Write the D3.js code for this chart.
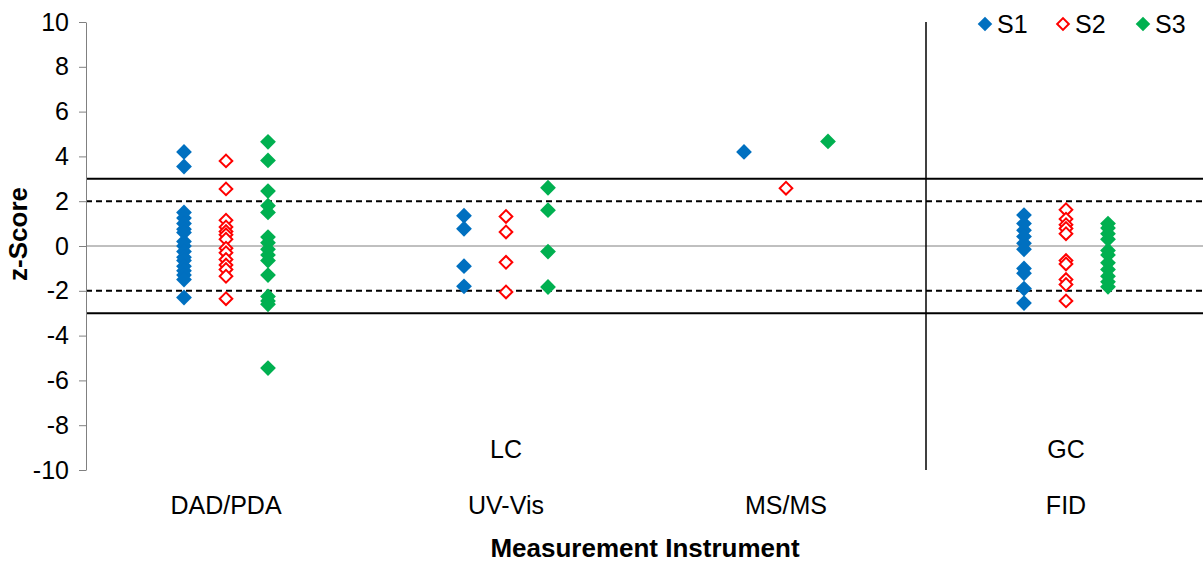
<!DOCTYPE html>
<html>
<head>
<meta charset="utf-8">
<script src="https://cdn.jsdelivr.net/npm/d3@7"></script>
<style>
  html, body { margin: 0; padding: 0; background: #fff; }
  svg { display: block; font-family: "Liberation Sans", Arial, sans-serif; }
</style>
</head>
<body>
<svg id="chart" width="1203" height="563"></svg>
<script>
// Instruments on the x axis and the technique group each belongs to
const categories = ["DAD/PDA", "UV-Vis", "MS/MS", "FID"];
const groups = [
  { label: "LC", from: "DAD/PDA", to: "MS/MS" },
  { label: "GC", from: "FID", to: "FID" }
];
const seriesNames = ["S1", "S2", "S3"];

// z-scores per instrument (one inner array per category)
const s1Values = [
  [4.2, 3.55, 1.5, 1.25, 1.0, 0.75, 0.6, 0.2, 0.0, -0.25, -0.5, -0.65, -0.9, -1.1, -1.3, -1.5, -2.3],
  [1.35, 0.77, -0.9, -1.8],
  [4.2],
  [1.38, 1.0, 0.7, 0.42, 0.12, -0.15, -1.0, -1.22, -1.9, -2.55]
];
const s2Values = [
  [3.8, 2.55, 1.15, 0.85, 0.65, 0.5, 0.3, -0.1, -0.3, -0.6, -0.85, -1.05, -1.35, -2.35],
  [1.32, 0.63, -0.73, -2.05],
  [2.58],
  [1.62, 1.2, 0.95, 0.78, 0.55, -0.65, -0.8, -1.5, -1.72, -2.45]
];
const s3Values = [
  [4.65, 3.82, 2.45, 1.8, 1.5, 0.4, 0.15, -0.15, -0.4, -0.65, -1.3, -2.25, -2.45, -2.6, -5.45],
  [2.6, 1.6, -0.25, -1.83],
  [4.67],
  [1.0, 0.8, 0.55, 0.3, -0.2, -0.4, -0.75, -1.05, -1.35, -1.6, -1.82]
];
const yTicks = [-10, -8, -6, -4, -2, 0, 2, 4, 6, 8, 10];
const limitLines = [
  { value: 3, dash: null }, { value: -3, dash: null },
  { value: 2, dash: "6,4" }, { value: -2, dash: "6,4" }
];

const seriesStyle = {
  S1: { fill: "#0070C0", stroke: "none", width: 0, size: 125 },
  S2: { fill: "#fff", stroke: "#FF0000", width: 2, size: 80 },
  S3: { fill: "#00B050", stroke: "none", width: 0, size: 125 }
};

const svg = d3.select("#chart");
const plotLeft = 86, plotRight = 1206, plotTop = 22, plotBottom = 470;

const x = d3.scaleBand().domain(categories).range([plotLeft, plotRight]).padding(0);
const offset = d3.scalePoint().domain(seriesNames).range([-42, 42]);
const y = d3.scaleLinear().domain([-10, 10]).range([plotBottom, plotTop]);

// zero line
svg.append("line")
  .attr("x1", plotLeft).attr("x2", plotRight)
  .attr("y1", y(0)).attr("y2", y(0))
  .attr("stroke", "#808080").attr("stroke-width", 1);

// acceptance limits |z| = 2 (dashed) and |z| = 3 (solid)
svg.selectAll(".limit").data(limitLines).join("line")
  .attr("class", "limit")
  .attr("x1", plotLeft).attr("x2", plotRight)
  .attr("y1", d => y(d.value)).attr("y2", d => y(d.value))
  .attr("stroke", "#000").attr("stroke-width", 2)
  .attr("stroke-dasharray", d => d.dash);

// divider between LC and GC
svg.append("line")
  .attr("x1", x("FID")).attr("x2", x("FID"))
  .attr("y1", plotTop).attr("y2", plotBottom)
  .attr("stroke", "#000").attr("stroke-width", 1.5);

// y axis
const yAxis = svg.append("g")
  .attr("transform", `translate(${plotLeft},0)`)
  .call(d3.axisLeft(y).tickValues(yTicks).tickSize(7).tickSizeOuter(0).tickPadding(10)
    .tickFormat(d => String(d)));
yAxis.select(".domain").attr("stroke", "#808080");
yAxis.selectAll(".tick line").attr("stroke", "#808080");
yAxis.selectAll(".tick text").attr("font-size", 25).attr("fill", "#000")
  .attr("font-family", "Liberation Sans, Arial, sans-serif");

// points
const allSeries = { S1: s1Values, S2: s2Values, S3: s3Values };
seriesNames.forEach(name => {
  const pts = [];
  allSeries[name].forEach((vals, i) => vals.forEach(v => pts.push({ cat: categories[i], v })));
  const st = seriesStyle[name];
  svg.append("g").selectAll("path").data(pts).join("path")
    .attr("d", d3.symbol().type(d3.symbolSquare).size(st.size)())
    .attr("transform", d => `translate(${x(d.cat) + x.bandwidth() / 2 + offset(name)},${y(d.v)}) rotate(45)`)
    .attr("fill", st.fill)
    .attr("stroke", st.stroke)
    .attr("stroke-width", st.width);
});

// category labels
svg.selectAll(".cat").data(categories).join("text")
  .attr("class", "cat")
  .attr("x", d => x(d) + x.bandwidth() / 2)
  .attr("y", 514)
  .attr("text-anchor", "middle")
  .attr("font-size", 25)
  .text(d => d);

// group labels
svg.selectAll(".grp").data(groups).join("text")
  .attr("class", "grp")
  .attr("x", d => (x(d.from) + x(d.to) + x.bandwidth()) / 2)
  .attr("y", 458)
  .attr("text-anchor", "middle")
  .attr("font-size", 25)
  .text(d => d.label);

// axis titles
svg.append("text")
  .attr("x", 645).attr("y", 557)
  .attr("text-anchor", "middle")
  .attr("font-size", 26).attr("font-weight", "bold")
  .text("Measurement Instrument");
svg.append("text")
  .attr("transform", "translate(27,234) rotate(-90)")
  .attr("text-anchor", "middle")
  .attr("font-size", 26).attr("font-weight", "bold")
  .text("z-Score");

// legend
const legend = svg.append("g");
const legendX = [985, 1063, 1143];
seriesNames.forEach((name, i) => {
  const st = seriesStyle[name];
  legend.append("path")
    .attr("d", d3.symbol().type(d3.symbolSquare).size(st.size * 0.85)())
    .attr("transform", `translate(${legendX[i]},24) rotate(45)`)
    .attr("fill", st.fill).attr("stroke", st.stroke)
    .attr("stroke-width", st.width);
  legend.append("text")
    .attr("x", legendX[i] + 12).attr("y", 33)
    .attr("font-size", 25)
    .text(name);
});
</script>
</body>
</html>
